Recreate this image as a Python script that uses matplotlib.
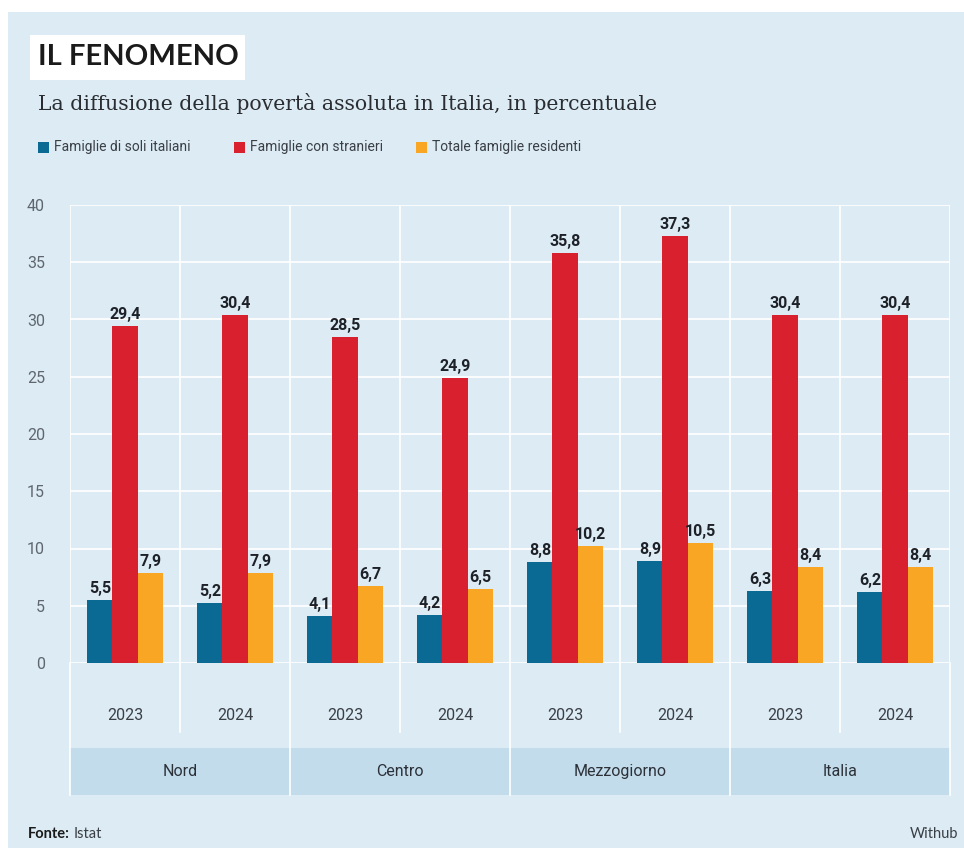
import numpy as np
import matplotlib.pyplot as plt
from matplotlib.patches import Rectangle
import matplotlib.transforms as mtransforms

# dati (ISTAT, povertà assoluta, %)
regioni = ['Nord', 'Centro', 'Mezzogiorno', 'Italia']
anni = ['2023', '2024']
soli_italiani = [5.5, 5.2, 4.1, 4.2, 8.8, 8.9, 6.3, 6.2]
con_stranieri = [29.4, 30.4, 28.5, 24.9, 35.8, 37.3, 30.4, 30.4]
totale = [7.9, 7.9, 6.7, 6.5, 10.2, 10.5, 8.4, 8.4]
serie_nomi = ['Famiglie di soli italiani', 'Famiglie con stranieri', 'Totale famiglie residenti']
yticks = [0, 5, 10, 15, 20, 25, 30, 35, 40]

colori = ['#0b6a94', '#d8202f', '#f8a623']
sfondo = '#dcebf4'
cond = ['Roboto', 'DejaVu Sans']

fig = plt.figure(figsize=(9.64, 8.48), dpi=100)
fig.patch.set_facecolor('white')
fig.patches.append(Rectangle((8 / 964, 0), 1, 1 - 12 / 848, transform=fig.transFigure,
                             facecolor=sfondo, edgecolor='none', zorder=-10))

ax = fig.add_axes([70 / 964, (848 - 663) / 848, 880 / 964, 458 / 848])
ax.set_facecolor(sfondo)

x = np.arange(len(soli_italiani))
w = 0.228
serie = [soli_italiani, con_stranieri, totale]
for k, (vals, c) in enumerate(zip(serie, colori)):
    pos = x + (k - 1) * w
    ax.bar(pos, vals, width=w, color=c, zorder=3)
    for xi, v in zip(pos, vals):
        ax.text(xi, v + 0.35, f'{v:.1f}'.replace('.', ','), ha='center', va='bottom',
                fontsize=11.5, fontweight='bold', color='#1e2228', family=cond, zorder=4)

ax.set_xlim(-0.5, len(x) - 0.5)
ax.set_ylim(0, 40)
ax.set_yticks(yticks)
ax.set_yticklabels([str(t) for t in yticks], family=cond, fontsize=11.5, color='#5f666e')
ax.tick_params(axis='y', length=0, pad=18)
ax.set_xticks([])
for s in ax.spines.values():
    s.set_visible(False)
for t in yticks:
    ax.axhline(t, color='white', lw=1.2, zorder=1)
for b in np.arange(-0.5, len(x), 1):
    ax.axvline(b, color='white', lw=1.2, zorder=1)

# righe sotto l'asse: anni e regioni
tr = mtransforms.blended_transform_factory(ax.transData, ax.transAxes)
for i in range(len(x)):
    ax.text(i, -0.114, anni[i % 2], transform=tr, ha='center', va='center',
            fontsize=11.5, color='#3a3f45', family=cond)
    if i % 2 == 1:
        ax.plot([i - 0.5, i - 0.5], [0, -0.15], transform=tr, color='white', lw=1.2, clip_on=False)
for j, r in enumerate(regioni):
    ax.add_patch(Rectangle((2 * j - 0.5, -0.288), 2, 0.102, transform=tr,
                           facecolor='#c3dcec', edgecolor='none', clip_on=False, zorder=0))
    ax.text(2 * j + 0.5, -0.236, r, transform=tr, ha='center', va='center',
            fontsize=11.5, color='#2c3138', family=cond)
for b in np.arange(-0.5, len(x) + 0.5, 2):
    ax.plot([b, b], [0, -0.288], transform=tr, color='white', lw=1.2, clip_on=False)

# titolo e sottotitolo
fig.patches.append(Rectangle((30 / 964, (848 - 80) / 848), 215 / 964, 45 / 848,
                             transform=fig.transFigure, facecolor='white', edgecolor='none'))
fig.text(38 / 964, 1 - 57 / 848, 'IL FENOMENO', fontsize=21, fontweight='bold',
         family='Lato', color='#1a1a1a', va='center', ha='left')
fig.text(38 / 964, 1 - 104 / 848, 'La diffusione della povertà assoluta in Italia, in percentuale',
         fontsize=14.7, family='DejaVu Serif', color='#2a2d31', va='center', ha='left')

# legenda
leg_x = [38, 234, 416]
for lx, nome, c in zip(leg_x, serie_nomi, colori):
    fig.patches.append(Rectangle((lx / 964, 1 - 153 / 848), 11 / 964, 11 / 848,
                                 transform=fig.transFigure, facecolor=c, edgecolor='none'))
    fig.text((lx + 16) / 964, 1 - 147.5 / 848, nome, fontsize=10, family=cond,
             color='#3a3f45', va='center', ha='left')

fig.text(28 / 964, 1 - 834 / 848, 'Fonte:', fontsize=10.5, fontweight='bold', family='Lato',
         color='#1a1a1a', va='center', ha='left')
fig.text(74 / 964, 1 - 834 / 848, 'Istat', fontsize=10.5, family='Lato',
         color='#3a3f45', va='center', ha='left')
fig.text(958 / 964, 1 - 834 / 848, 'Withub', fontsize=10.5, family='Lato',
         color='#3a3f45', va='center', ha='right')

fig.savefig('out.png', dpi=100, facecolor=fig.get_facecolor())
